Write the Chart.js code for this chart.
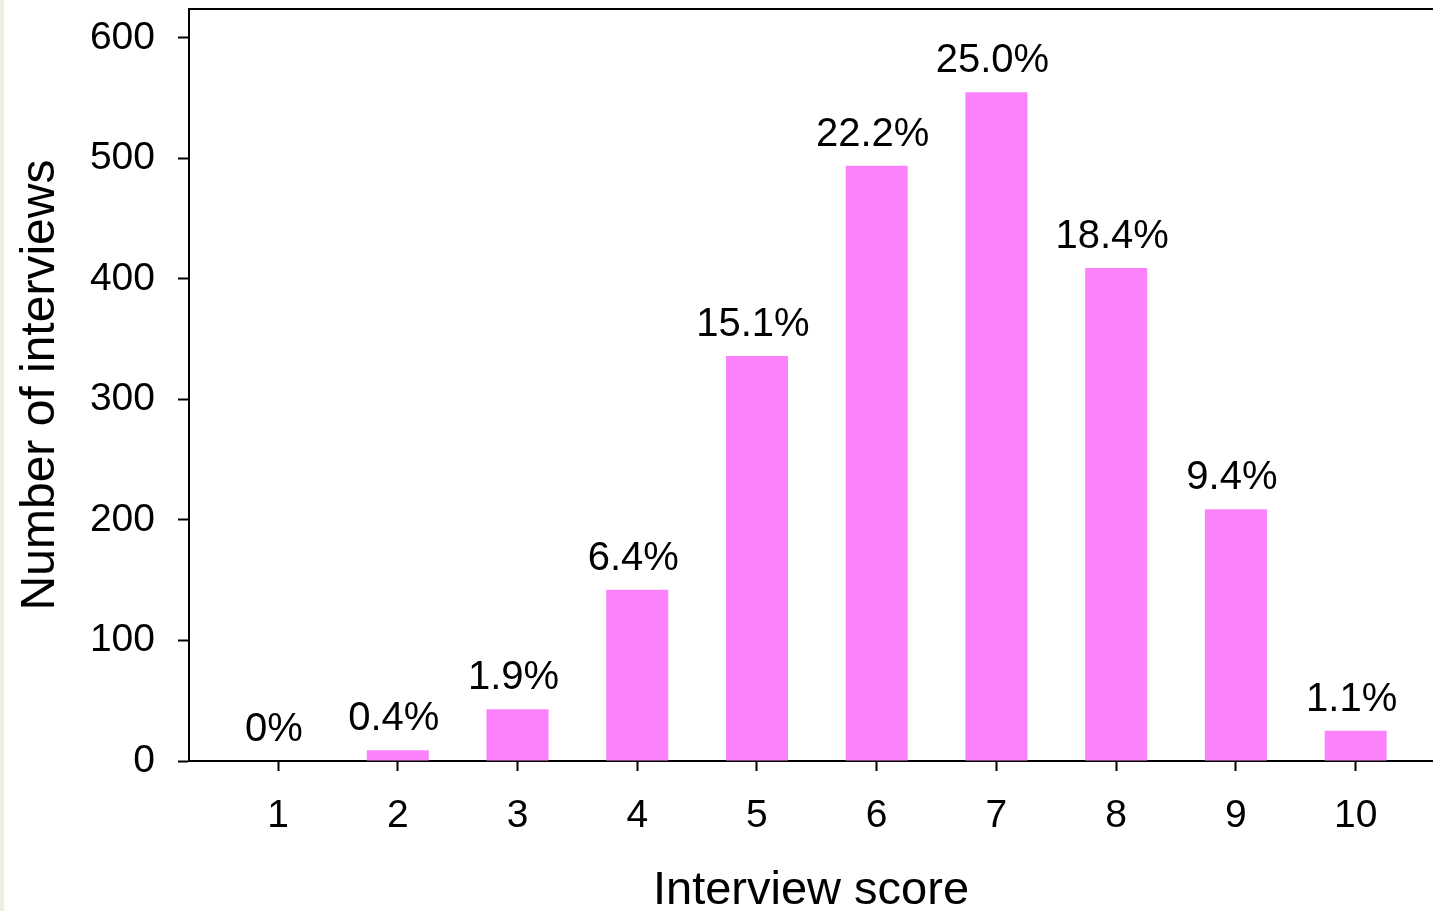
<!DOCTYPE html>
<html>
<head>
<meta charset="utf-8">
<title>Interview score distribution</title>
<script src="https://cdn.jsdelivr.net/npm/chart.js@4/dist/chart.umd.min.js"></script>
<style>
  html, body { margin: 0; padding: 0; background: #ffffff; }
  #wrap { position: relative; width: 1433px; height: 911px; }
</style>
</head>
<body>
<div id="wrap"><canvas id="chart" width="1433" height="911"></canvas></div>
<script>
// Interview scores 1–10 and the number of interviews at each score
const scores = [1, 2, 3, 4, 5, 6, 7, 8, 9, 10];
const interviewCounts = [0, 9, 43, 142, 336, 494, 555, 409, 209, 25];
const yTickValues = [0, 100, 200, 300, 400, 500, 600];

const totalInterviews = interviewCounts.reduce((a, b) => a + b, 0);
const shareLabel = v => v === 0 ? '0%' : (v / totalInterviews * 100).toFixed(1) + '%';

const FONT = '"Liberation Sans", Arial, Helvetica, sans-serif';
const INK = '#000000';

// Paper background with the thin tinted margin on the left
const backdrop = {
  id: 'backdrop',
  beforeDraw(chart) {
    const { ctx, width, height } = chart;
    ctx.save();
    ctx.fillStyle = '#ffffff';
    ctx.fillRect(0, 0, width, height);
    ctx.fillStyle = '#efece2';
    ctx.fillRect(0, 0, 4, height);
    ctx.restore();
  }
};

// Top frame line of the plotting box
const topFrame = {
  id: 'topFrame',
  afterDraw(chart) {
    const { ctx, chartArea } = chart;
    ctx.save();
    ctx.strokeStyle = INK;
    ctx.lineWidth = 2;
    ctx.beginPath();
    ctx.moveTo(chartArea.left - 1, chartArea.top);
    ctx.lineTo(chartArea.right, chartArea.top);
    ctx.stroke();
    ctx.restore();
  }
};

// Percentage share printed above every bar
const shareLabels = {
  id: 'shareLabels',
  afterDatasetsDraw(chart) {
    const { ctx } = chart;
    const meta = chart.getDatasetMeta(0);
    ctx.save();
    ctx.fillStyle = INK;
    ctx.font = '40px ' + FONT;
    ctx.textAlign = 'center';
    ctx.textBaseline = 'alphabetic';
    meta.data.forEach((bar, i) => {
      ctx.fillText(shareLabel(interviewCounts[i]), bar.x - 4, bar.y - 20);
    });
    ctx.restore();
  }
};

new Chart(document.getElementById('chart'), {
  type: 'bar',
  data: {
    datasets: [{
      data: scores.map((s, i) => ({ x: s, y: interviewCounts[i] })),
      backgroundColor: '#fb82fb',
      borderWidth: 0,
      categoryPercentage: 1,
      barPercentage: 0.518
    }]
  },
  options: {
    responsive: false,
    animation: false,
    events: [],
    layout: { padding: { top: 9, left: 0, right: 0, bottom: 0 } },
    plugins: {
      legend: { display: false },
      tooltip: { enabled: false }
    },
    scales: {
      x: {
        type: 'linear',
        offset: false,
        min: 0.2565,
        max: 10.646,
        afterBuildTicks(scale) {
          scale.ticks = scores.map(v => ({ value: v }));
        },
        afterFit(scale) {
          scale.height = 150;
          scale.paddingLeft = 0;
          scale.paddingRight = 0;
        },
        ticks: {
          color: INK,
          font: { family: FONT, size: 39 },
          padding: 22,
          maxRotation: 0,
          autoSkip: false,
          callback: v => String(v)
        },
        grid: {
          display: true,
          offset: false,
          drawOnChartArea: false,
          drawTicks: true,
          tickLength: 10,
          tickWidth: 2,
          tickColor: INK
        },
        border: { display: true, color: INK, width: 2 },
        title: {
          display: true,
          text: 'Interview score',
          color: INK,
          font: { family: FONT, size: 47, lineHeight: 0.86 },
          padding: { top: 0, bottom: 0 }
        }
      },
      y: {
        type: 'linear',
        min: 0,
        max: 624,
        afterBuildTicks(scale) {
          scale.ticks = yTickValues.map(v => ({ value: v }));
        },
        afterFit(scale) {
          scale.width = 189;
          scale.paddingTop = 0;
          scale.paddingBottom = 0;
        },
        ticks: {
          color: INK,
          font: { family: FONT, size: 39 },
          padding: 23,
          callback: v => String(v)
        },
        grid: {
          display: true,
          drawOnChartArea: false,
          drawTicks: true,
          tickLength: 11,
          tickWidth: 2,
          tickColor: INK
        },
        border: { display: true, color: INK, width: 2 },
        title: {
          display: true,
          text: 'Number of interviews',
          color: INK,
          font: { family: FONT, size: 48, lineHeight: 1.2 },
          padding: { top: 12, bottom: 0 }
        }
      }
    }
  },
  plugins: [backdrop, topFrame, shareLabels]
});
</script>
</body>
</html>
